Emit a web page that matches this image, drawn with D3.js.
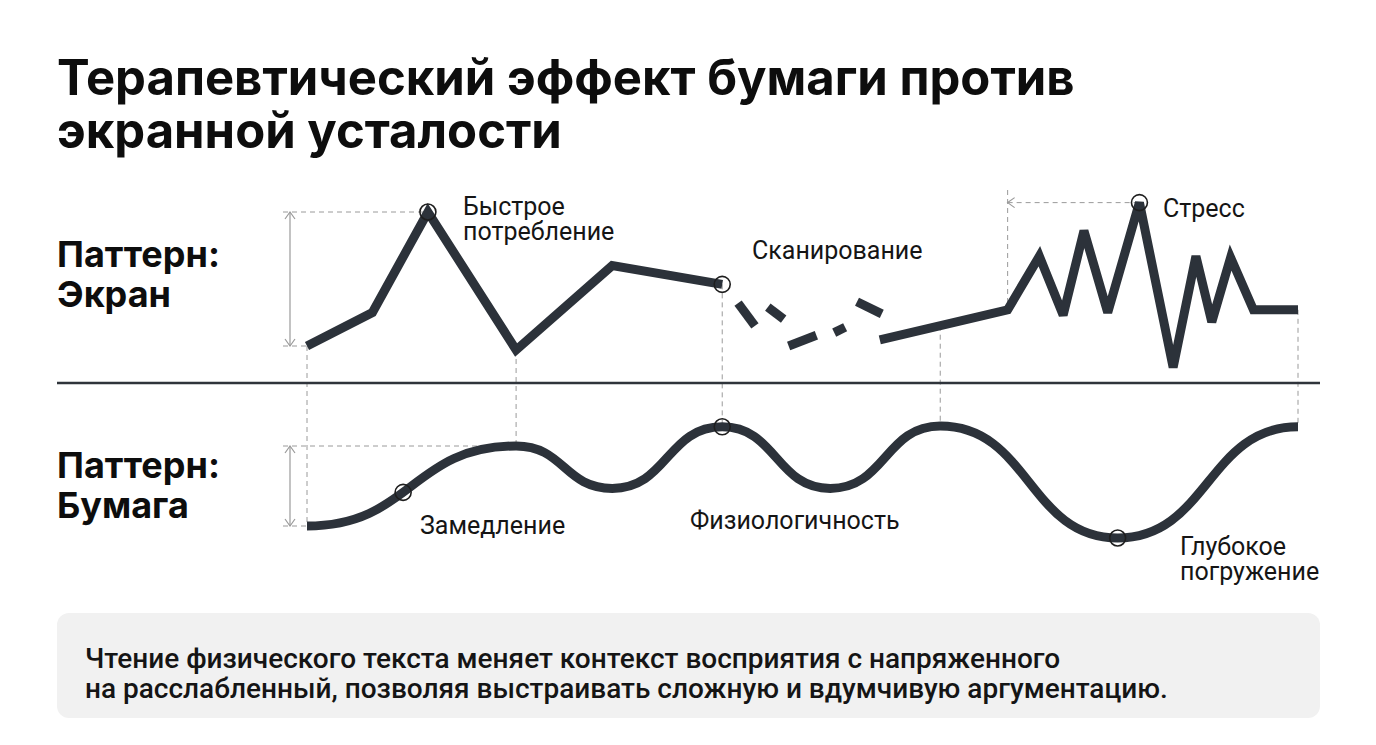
<!DOCTYPE html>
<html>
<head>
<meta charset="utf-8">
<script src="https://cdn.jsdelivr.net/npm/d3@7"></script>
<style>
  body { margin: 0; background: #fff; }
  text { font-family: Roboto, "Noto Sans", sans-serif; fill: #151515; }
  .bold { font-family: Inter, Roboto, sans-serif; font-weight: 700; fill: #0d0d0d; }
</style>
</head>
<body>
<svg id="chart" width="1376" height="745"></svg>
<script>
/* Data */
var titleLines = ["Терапевтический эффект бумаги против", "экранной усталости"];
var rowLabels = [["Паттерн:", "Экран"], ["Паттерн:", "Бумага"]];
var noteLines = [
  "Чтение физического текста меняет контекст восприятия с напряженного",
  "на расслабленный, позволяя выстраивать сложную и вдумчивую аргументацию."
];

// screen pattern: time (0..100) / tension level (0..100)
var screenHead = [[0, 0], [6.6, 25], [12.2, 100], [21.1, -3], [30.8, 60], [41.9, 46]];
var scanDashes = [
  [[43.5, 32], [45.2, 15]],
  [[46.5, 29], [48.1, 20]],
  [[48.6, 0], [51.4, 8]],
  [[53.2, 10], [54.3, 14]],
  [[55.5, 33], [58.0, 24]]
];
var screenTail = [[57.8, 4.5], [70.7, 27], [73.9, 67], [76.3, 23], [78.4, 86], [80.8, 25],
  [84.0, 107], [87.4, -16], [89.7, 67], [91.3, 18], [93.2, 66], [95.5, 27], [100, 27]];

// paper pattern: extremes of a smooth wave
var paperLine = [[0, 0], [21.1, 100], [30.8, 47], [41.9, 124], [52.8, 47], [63.9, 125], [81.8, -15], [100, 124]];

var screenMarks = [12.2, 41.9, 84.0];
var paperMarks = [9.7, 41.9, 81.8];
var guideTimes = [0, 21.1, 41.9, 63.9, 100];

/* Scales */
var x = d3.scaleLinear().domain([0, 100]).range([307, 1298]);
var yScreen = d3.scaleLinear().domain([0, 100]).range([346, 212]);
var yPaper = d3.scaleLinear().domain([0, 100]).range([526, 446]);

var svg = d3.select("svg#chart");
var ink = "#2c323a";
var guideColor = "#9a9a9a";

function interp(series, t) {
  var i = d3.bisector(d => d[0]).left(series, t);
  if (i <= 0) return series[0][1];
  if (i >= series.length) return series[series.length - 1][1];
  var a = series[i - 1], b = series[i];
  return a[1] + (b[1] - a[1]) * (t - a[0]) / (b[0] - a[0]);
}

var screenAll = screenHead.concat(screenTail);

function dashed(x1, y1, x2, y2) {
  svg.append("line")
    .attr("x1", x1).attr("y1", y1).attr("x2", x2).attr("y2", y2)
    .attr("stroke", guideColor)
    .attr("stroke-width", 1)
    .attr("stroke-dasharray", "5,4");
}

function chevron(px, py, dir) {
  // dir: "up" | "down" | "left"
  var d;
  if (dir === "up") d = `M${px - 5},${py + 7}L${px},${py}L${px + 5},${py + 7}`;
  if (dir === "down") d = `M${px - 5},${py - 7}L${px},${py}L${px + 5},${py - 7}`;
  if (dir === "left") d = `M${px + 7},${py - 5}L${px},${py}L${px + 7},${py + 5}`;
  svg.append("path").attr("d", d).attr("fill", "none")
    .attr("stroke", guideColor).attr("stroke-width", 1.2);
}

function rangeArrow(px, yTop, yBot) {
  svg.append("line")
    .attr("x1", px).attr("x2", px).attr("y1", yTop).attr("y2", yBot)
    .attr("stroke", guideColor).attr("stroke-width", 1.2);
  chevron(px, yTop, "up");
  chevron(px, yBot, "down");
}

/* Title */
svg.append("g").selectAll("text")
  .data(titleLines)
  .enter()
  .append("text")
  .attr("class", "bold")
  .attr("x", 57)
  .attr("y", (d, i) => 95 + i * 53)
  .attr("font-size", 49)
  .text(d => d);

/* Row labels */
rowLabels.forEach((lines, r) => {
  svg.append("g").selectAll("text")
    .data(lines)
    .enter()
    .append("text")
    .attr("class", "bold")
    .attr("x", 57)
    .attr("y", (d, i) => (r === 0 ? 267 : 478) + i * 40)
    .attr("font-size", 36)
    .text(d => d);
});

/* Guides */
guideTimes.forEach(t => {
  var ys = yScreen(interp(screenAll, t));
  var yp = yPaper(interp(paperLine, t));
  dashed(x(t), ys, x(t), yp);
});

// screen range bracket
dashed(283, yScreen(100), x(12.2), yScreen(100));
dashed(283, yScreen(0), x(0), yScreen(0));
rangeArrow(290, yScreen(100), yScreen(0));

// paper range bracket
dashed(283, yPaper(100), x(21.1), yPaper(100));
dashed(283, yPaper(0), x(0), yPaper(0));
rangeArrow(290, yPaper(100), yPaper(0));

// stress bracket
dashed(x(70.7), 190, x(70.7), yScreen(27));
dashed(x(70.7), yScreen(107), x(84.0), yScreen(107));
chevron(x(70.7), yScreen(107), "left");

/* Divider */
svg.append("line")
  .attr("x1", 57).attr("x2", 1320)
  .attr("y1", 383).attr("y2", 383)
  .attr("stroke", "#2f343b")
  .attr("stroke-width", 2.5);

/* Screen line */
var screenPath = d3.line()
  .x(d => x(d[0]))
  .y(d => yScreen(d[1]));

[screenHead, screenTail].forEach(seg => {
  svg.append("path")
    .attr("d", screenPath(seg))
    .attr("fill", "none")
    .attr("stroke", ink)
    .attr("stroke-width", 9)
    .attr("stroke-linejoin", "miter")
    .attr("stroke-miterlimit", 3);
});

svg.append("g")
  .selectAll("path")
  .data(scanDashes)
  .enter()
  .append("path")
  .attr("d", screenPath)
  .attr("fill", "none")
  .attr("stroke", ink)
  .attr("stroke-width", 9);

/* Paper line */
var paperPathGen = d3.line()
  .x(d => x(d[0]))
  .y(d => yPaper(d[1]))
  .curve(d3.curveBumpX);

var paperPath = svg.append("path")
  .attr("d", paperPathGen(paperLine))
  .attr("fill", "none")
  .attr("stroke", ink)
  .attr("stroke-width", 9);

function yOnPath(node, px) {
  var lo = 0, hi = node.getTotalLength();
  for (var k = 0; k < 40; k++) {
    var mid = (lo + hi) / 2;
    if (node.getPointAtLength(mid).x < px) lo = mid; else hi = mid;
  }
  return node.getPointAtLength(lo).y;
}

/* Markers */
function marker(px, py) {
  svg.append("circle")
    .attr("cx", px).attr("cy", py).attr("r", 8)
    .attr("fill", "none")
    .attr("stroke", "#1e1e1e")
    .attr("stroke-width", 1.6);
}
screenMarks.forEach(t => marker(x(t), yScreen(interp(screenAll, t))));
paperMarks.forEach(t => marker(x(t), yOnPath(paperPath.node(), x(t))));

/* Annotations */
function label(lines, px, py) {
  svg.append("g").selectAll("text")
    .data(lines)
    .enter()
    .append("text")
    .attr("x", px)
    .attr("y", (d, i) => py + i * 25)
    .attr("font-size", 25)
    .text(d => d);
}
label(["Быстрое", "потребление"], 463, 215);
label(["Сканирование"], 752, 259);
label(["Стресс"], 1163, 217);
label(["Замедление"], 420, 534);
label(["Физиологичность"], 690, 529);
label(["Глубокое", "погружение"], 1180, 555);

/* Note box */
svg.append("rect")
  .attr("x", 57).attr("y", 613)
  .attr("width", 1263).attr("height", 105)
  .attr("rx", 12)
  .attr("fill", "#f1f1f1");

svg.append("g").selectAll("text")
  .data(noteLines)
  .enter()
  .append("text")
  .attr("x", 85)
  .attr("y", (d, i) => 668 + i * 30)
  .attr("font-size", 28)
  .attr("font-weight", 500)
  .text(d => d);
</script>
</body>
</html>
